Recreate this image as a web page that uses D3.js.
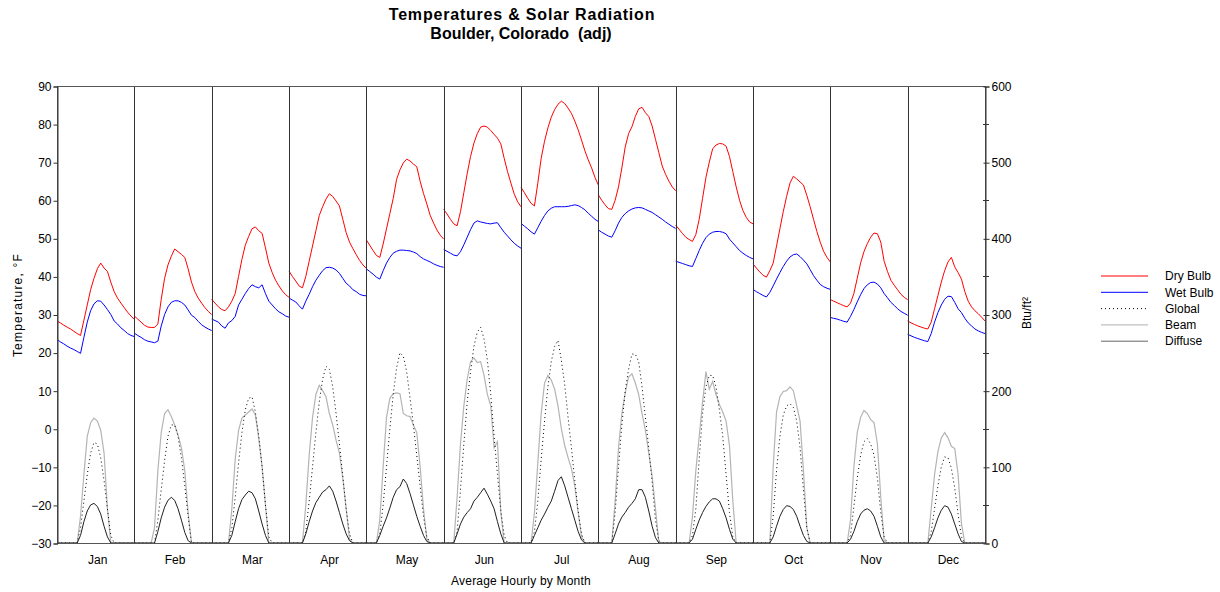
<!DOCTYPE html>
<html>
<head>
<meta charset="utf-8">
<script src="https://cdn.jsdelivr.net/npm/d3@7"></script>
<style>
  body { margin: 0; background: #fff; }
  text { font-family: "Liberation Sans", Arial, sans-serif; fill: #000; }
</style>
</head>
<body>
<div class="chart"></div>
<script>
const months = ["Jan", "Feb", "Mar", "Apr", "May", "Jun", "Jul", "Aug", "Sep", "Oct", "Nov", "Dec"];

// average hourly values, 24 per month (hour 1..24)
const dryBulb = [
  [28.3, 27.8, 27.2, 26.7, 26.2, 25.6, 25.0, 24.5, 28.5, 32.5, 36.5, 39.5, 42, 43.5, 42.2, 41.3, 38.5, 36, 34.3, 33, 31.8, 30.6, 29.6, 28.7],
  [29.6, 28.8, 28, 27.2, 26.7, 26.6, 26.6, 27.5, 34, 39.5, 43, 45.3, 47.2, 46.5, 45.8, 45, 42, 38.5, 36, 34.3, 33, 31.8, 30.8, 30],
  [34, 33, 32, 31.3, 31, 32, 33.5, 35.5, 40, 44.5, 48.2, 50.5, 52.5, 53, 52, 51.3, 47.5, 43.5, 41, 39, 37.5, 36.2, 35.2, 34.5],
  [41.4, 40, 38.8, 37.5, 37, 40, 44, 48, 52, 56, 58.3, 60.3, 61.7, 61, 59.8, 58.5, 55, 51.5, 49, 47.3, 45.7, 44.2, 43, 42.1],
  [49.6, 48.2, 46.8, 45.5, 45, 48.5, 52.5, 56.5, 60.5, 65.5, 68, 69.8, 70.8, 70.3, 69.5, 68.8, 65, 61.8, 59, 56, 54, 52.2, 50.8, 49.8],
  [57.6, 56.4, 55, 53.8, 53.3, 57, 62, 67, 71.5, 75, 77.5, 79.2, 79.5, 79.2, 78.3, 77.3, 76.3, 74.8, 71, 67.5, 64.5, 61.6, 59.6, 58.3],
  [63.4, 62, 60.5, 59.2, 58.5, 64.5, 71, 75.5, 79, 81.8, 83.8, 85.2, 86, 85.4, 84.2, 82.8, 80.8, 78.5, 75.8, 73, 70.6, 68.5, 66, 64],
  [61.4, 60, 58.8, 57.8, 57.6, 60, 63.5, 68.5, 74, 77.5, 79.3, 82, 84, 84.4, 83, 82, 79.5, 76, 72.5, 69, 66.8, 65, 63.5, 62.5],
  [53.5, 52.4, 51.3, 50.3, 49.7, 49.2, 51, 55, 60.5, 66, 70, 73.5, 74.5, 74.9, 74.8, 74.2, 71.5, 67.5, 63.5, 60, 57.3, 55.5, 54.3, 53.8],
  [43.3, 42.2, 41.2, 40.3, 39.8, 41.5, 43.5, 48, 52.5, 57, 61, 64.5, 66.3, 65.6, 64.8, 64, 61.3, 58.3, 55, 51.8, 49, 46.6, 45, 43.8],
  [33.9, 33.5, 33.1, 32.7, 32.3, 32, 33, 35.5, 39.5, 43.5, 46.5, 48.6, 50.3, 51.4, 51.2, 49, 44, 41.3, 39, 37.7, 36.5, 35.3, 34.5, 33.9],
  [28.3, 27.8, 27.4, 27, 26.7, 26.4, 26.2, 28, 31.5, 35, 38.5, 41.5, 43.8, 45, 42.5, 41, 39.3, 36, 33.5, 32, 31, 30.2, 29.3, 28.3]
];

const wetBulb = [
  [23.5, 22.8, 22.3, 21.7, 21.2, 20.8, 20.3, 19.8, 24, 28, 31, 32.8, 33.6, 33.5, 32.5, 31.3, 30, 28.3, 27.5, 26.5, 25.8, 25, 24.5, 24.2],
  [25.1, 24.5, 24, 23.4, 23, 22.8, 22.6, 23, 27, 30, 32, 33.2, 33.6, 33.6, 33.2, 32.5, 31.2, 29.8, 29.2, 28.2, 27.3, 26.7, 26.2, 25.8],
  [28.8, 28.4, 28, 27, 26.4, 27.8, 28.4, 29.5, 32.5, 34, 35.5, 36.8, 37.8, 37.3, 37, 37.8, 35.5, 33.5, 32.5, 31.5, 30.7, 30.2, 29.6, 29.3],
  [34.3, 33.8, 33.3, 32.3, 31.4, 33.5, 35.3, 37.3, 39, 40.3, 41.5, 42.3, 42.4, 42.2, 41.7, 40.8, 39.5, 38.2, 37.5, 36.5, 36, 35.3, 35, 34.9],
  [42, 41.3, 40.6, 39.8, 39.3, 41.5, 43.5, 45, 46.1, 46.6, 46.9, 46.9, 46.8, 46.7, 46.4, 46, 45.2, 44.6, 44.2, 43.8, 43.3, 42.9, 42.6, 42.4],
  [47.1, 46.6, 46.1, 45.6, 45.4, 46.5, 48.3, 50.3, 52.3, 54, 54.6, 54.3, 54.1, 53.9, 53.8, 54, 54.1, 52.8, 51.6, 50.6, 49.6, 48.7, 48, 47.4],
  [53.9, 53.2, 52.5, 51.7, 51.1, 52.8, 54.5, 56, 57.2, 57.9, 58.3, 58.3, 58.3, 58.3, 58.4, 58.6, 58.8, 58.6, 58.1, 57.5, 56.6, 55.8, 55, 54.4],
  [52.2, 51.6, 51.1, 50.6, 50.3, 52, 54, 55.5, 56.5, 57.2, 57.7, 58, 58.1, 58, 57.6, 57.2, 56.8, 56.2, 55.6, 55, 54.3, 53.7, 53.1, 52.6],
  [44, 43.7, 43.4, 43.1, 42.8, 42.6, 44.7, 46.8, 48.7, 50.2, 51.1, 51.6, 51.8, 51.8, 51.6, 51.2, 49.8, 48.8, 47.8, 46.8, 46.1, 45.5, 45, 44.6],
  [36.6, 36, 35.5, 35, 34.6, 35.8, 37.5, 39.3, 41, 42.6, 44, 45.1, 45.7, 45.9, 45.2, 44.3, 43.3, 41.8, 40.2, 39, 37.9, 37.3, 36.9, 36.6],
  [29.2, 29, 28.8, 28.5, 28.2, 28, 29.5, 31.3, 33.3, 35.2, 36.8, 37.8, 38.4, 38.5, 38, 37, 35.5, 34.4, 33.2, 32.4, 31.5, 30.8, 30.3, 29.8],
  [24.8, 24.4, 24, 23.7, 23.4, 23.1, 22.9, 25, 28, 30.5, 32.5, 34, 34.8, 34.7, 33.2, 31.5, 30.5, 29, 27.8, 27, 26.2, 25.7, 25.3, 25]
];

const globalRad = [
  [0, 0, 0, 0, 0, 0, 0, 20, 55, 90, 118, 132, 130, 112, 82, 45, 10, 0, 0, 0, 0, 0, 0, 0],
  [0, 0, 0, 0, 0, 0, 0, 30, 70, 108, 140, 155, 155, 140, 112, 75, 35, 0, 0, 0, 0, 0, 0, 0],
  [0, 0, 0, 0, 0, 0, 20, 60, 105, 145, 175, 190, 192, 172, 140, 100, 50, 8, 0, 0, 0, 0, 0, 0],
  [0, 0, 0, 0, 0, 15, 55, 100, 145, 185, 215, 232, 228, 205, 170, 130, 88, 45, 12, 0, 0, 0, 0, 0],
  [0, 0, 0, 0, 12, 50, 100, 150, 195, 230, 250, 245, 225, 190, 155, 115, 75, 35, 8, 0, 0, 0, 0, 0],
  [0, 0, 0, 0, 15, 70, 130, 185, 225, 258, 277, 283, 268, 240, 195, 140, 90, 42, 10, 0, 0, 0, 0, 0],
  [0, 0, 0, 0, 15, 55, 110, 160, 205, 238, 258, 266, 240, 208, 165, 125, 82, 42, 12, 0, 0, 0, 0, 0],
  [0, 0, 0, 0, 0, 40, 100, 155, 200, 228, 248, 248, 238, 205, 165, 125, 80, 30, 3, 0, 0, 0, 0, 0],
  [0, 0, 0, 0, 0, 10, 45, 110, 170, 205, 220, 220, 205, 175, 140, 90, 40, 8, 0, 0, 0, 0, 0, 0],
  [0, 0, 0, 0, 0, 0, 35, 95, 140, 168, 180, 183, 178, 160, 125, 70, 20, 0, 0, 0, 0, 0, 0, 0],
  [0, 0, 0, 0, 0, 0, 10, 48, 85, 115, 133, 137, 130, 115, 85, 40, 8, 0, 0, 0, 0, 0, 0, 0],
  [0, 0, 0, 0, 0, 0, 0, 15, 45, 75, 100, 113, 112, 98, 72, 38, 8, 0, 0, 0, 0, 0, 0, 0]
];

const beamRad = [
  [0, 0, 0, 0, 0, 0, 0, 35, 90, 140, 158, 164, 160, 148, 118, 45, 0, 0, 0, 0, 0, 0, 0, 0],
  [0, 0, 0, 0, 0, 0, 20, 95, 145, 170, 175, 166, 155, 142, 125, 95, 40, 0, 0, 0, 0, 0, 0, 0],
  [0, 0, 0, 0, 0, 0, 45, 110, 148, 164, 168, 172, 176, 168, 138, 100, 50, 0, 0, 0, 0, 0, 0, 0],
  [0, 0, 0, 0, 0, 50, 115, 165, 195, 207, 200, 192, 170, 155, 135, 118, 85, 45, 5, 0, 0, 0, 0, 0],
  [0, 0, 0, 0, 30, 100, 165, 190, 196, 197, 196, 170, 167, 166, 155, 145, 100, 45, 5, 0, 0, 0, 0, 0],
  [0, 0, 0, 0, 60, 130, 180, 215, 238, 243, 237, 238, 220, 195, 180, 125, 133, 40, 0, 0, 0, 0, 0, 0],
  [0, 0, 0, 0, 40, 105, 170, 210, 220, 214, 202, 180, 150, 128, 112, 98, 75, 40, 8, 0, 0, 0, 0, 0],
  [0, 0, 0, 0, 0, 55, 125, 170, 197, 218, 222, 210, 195, 170, 148, 118, 88, 45, 0, 0, 0, 0, 0, 0],
  [0, 0, 0, 0, 0, 35, 95, 140, 185, 225, 202, 212, 195, 182, 172, 160, 128, 55, 0, 0, 0, 0, 0, 0],
  [0, 0, 0, 0, 0, 0, 100, 172, 192, 199, 200, 205, 200, 180, 160, 95, 20, 0, 0, 0, 0, 0, 0, 0],
  [0, 0, 0, 0, 0, 0, 30, 100, 145, 165, 174, 170, 162, 158, 130, 60, 3, 0, 0, 0, 0, 0, 0, 0],
  [0, 0, 0, 0, 0, 0, 0, 45, 90, 120, 138, 145, 138, 127, 124, 90, 25, 0, 0, 0, 0, 0, 0, 0]
];

const diffuseRad = [
  [0, 0, 0, 0, 0, 0, 0, 10, 28, 42, 50, 52, 48, 38, 22, 8, 0, 0, 0, 0, 0, 0, 0, 0],
  [0, 0, 0, 0, 0, 0, 0, 15, 33, 47, 56, 60, 56, 45, 30, 14, 3, 0, 0, 0, 0, 0, 0, 0],
  [0, 0, 0, 0, 0, 0, 10, 28, 45, 57, 63, 68, 66, 58, 42, 25, 10, 0, 0, 0, 0, 0, 0, 0],
  [0, 0, 0, 0, 0, 12, 28, 42, 53, 60, 67, 70, 75, 68, 55, 40, 25, 12, 3, 0, 0, 0, 0, 0],
  [0, 0, 0, 0, 10, 22, 33, 46, 60, 70, 74, 84, 78, 65, 50, 35, 22, 10, 2, 0, 0, 0, 0, 0],
  [0, 0, 0, 0, 12, 25, 34, 40, 45, 55, 60, 66, 72, 64, 55, 45, 28, 12, 0, 0, 0, 0, 0, 0],
  [0, 0, 0, 0, 10, 20, 30, 38, 47, 55, 68, 82, 87, 75, 60, 45, 30, 15, 4, 0, 0, 0, 0, 0],
  [0, 0, 0, 0, 0, 12, 25, 34, 40, 47, 52, 58, 70, 70, 60, 42, 22, 7, 0, 0, 0, 0, 0, 0],
  [0, 0, 0, 0, 0, 5, 18, 30, 40, 48, 54, 58, 58, 55, 45, 33, 18, 5, 0, 0, 0, 0, 0, 0],
  [0, 0, 0, 0, 0, 0, 8, 22, 35, 44, 49, 48, 44, 35, 22, 10, 2, 0, 0, 0, 0, 0, 0, 0],
  [0, 0, 0, 0, 0, 0, 5, 15, 28, 38, 43, 45, 42, 35, 22, 8, 0, 0, 0, 0, 0, 0, 0, 0],
  [0, 0, 0, 0, 0, 0, 0, 8, 20, 33, 43, 49, 47, 38, 25, 12, 2, 0, 0, 0, 0, 0, 0, 0]
];

const tempTicks = d3.range(-30, 91, 10);
const radTicks = d3.range(0, 601, 100);
const radMinorTicks = d3.range(50, 600, 100);

const width = 1220, height = 592;
const plot = { left: 57, right: 985, top: 86, bottom: 543 };

const svg = d3.select(".chart")
              .append("svg")
                  .attr("width", width)
                  .attr("height", height);

svg.append("rect").attr("width", width).attr("height", height).attr("fill", "#fff");

const x = d3.scaleLinear().domain([0, 12]).range([plot.left, plot.right]);
const yT = d3.scaleLinear().domain([-30, 90]).range([plot.bottom, plot.top]);
const yR = d3.scaleLinear().domain([0, 600]).range([plot.bottom, plot.top]);
const hourX = (m, h) => x(m + h / 23);

/* Title */
svg.append("text")
   .attr("x", 522).attr("y", 20)
   .attr("text-anchor", "middle")
   .attr("font-size", "16px").attr("font-weight", "bold")
   .attr("letter-spacing", "0.8px")
   .text("Temperatures & Solar Radiation");
svg.append("text")
   .attr("x", 521).attr("y", 39)
   .attr("text-anchor", "middle")
   .attr("font-size", "16px").attr("font-weight", "bold")
   .style("white-space", "pre")
   .text("Boulder, Colorado  (adj)");

/* Series, drawn back to front */
const series = [
  { name: "Beam",     data: beamRad,    y: yR, color: "#b4b4b4", dash: null,  width: 1.2 },
  { name: "Global",   data: globalRad,  y: yR, color: "#000",    dash: "1,3", width: 1 },
  { name: "Diffuse",  data: diffuseRad, y: yR, color: "#202020", dash: null,  width: 1 },
  { name: "Wet Bulb", data: wetBulb,    y: yT, color: "#0000ff", dash: null,  width: 1 },
  { name: "Dry Bulb", data: dryBulb,    y: yT, color: "#ff0000", dash: null,  width: 1 }
];

svg.append("clipPath").attr("id", "clip")
   .append("rect")
   .attr("x", plot.left).attr("y", plot.top)
   .attr("width", plot.right - plot.left).attr("height", plot.bottom - plot.top);

const lines = svg.append("g").attr("clip-path", "url(#clip)");

series.forEach(s => {
    s.data.forEach((vals, m) => {
        const line = d3.line()
                       .x((d, i) => hourX(m, i))
                       .y(d => s.y(d));
        lines.append("path")
             .attr("d", line(vals))
             .attr("fill", "none")
             .attr("stroke", s.color)
             .attr("stroke-width", s.width)
             .attr("stroke-dasharray", s.dash);
    });
});

/* Month dividers and frame */
svg.append("g")
   .selectAll("line")
   .data(d3.range(1, 12))
   .enter()
   .append("line")
       .attr("x1", d => Math.round(x(d)) + 0.5)
       .attr("x2", d => Math.round(x(d)) + 0.5)
       .attr("y1", plot.top)
       .attr("y2", plot.bottom)
       .attr("stroke", "#333");

svg.append("rect")
   .attr("x", plot.left + 0.5).attr("y", plot.top + 0.5)
   .attr("width", plot.right - plot.left).attr("height", plot.bottom - plot.top)
   .attr("fill", "none").attr("stroke", "#555");

/* Left axis */
const leftAxis = svg.append("g")
   .attr("transform", "translate(" + (plot.left + 0.5) + ",0.5)")
   .call(d3.axisLeft(yT).tickValues(tempTicks).tickSize(4).tickPadding(2));
leftAxis.select(".domain").attr("stroke", "#333");
leftAxis.selectAll("line").attr("stroke", "#333");
leftAxis.selectAll("text").attr("font-size", "12px").attr("font-family", null);

/* Right axis */
const rightAxis = svg.append("g")
   .attr("transform", "translate(" + (plot.right + 0.5) + ",0.5)")
   .call(d3.axisRight(yR).tickValues(radTicks).tickSize(4).tickPadding(2));
rightAxis.select(".domain").attr("stroke", "#333");
rightAxis.selectAll("line").attr("stroke", "#333").attr("x1", -2);
rightAxis.selectAll("text").attr("font-size", "12px").attr("font-family", null);

svg.append("g")
   .selectAll("line")
   .data(radMinorTicks)
   .enter()
   .append("line")
       .attr("x1", plot.right - 2).attr("x2", plot.right + 4)
       .attr("y1", d => Math.round(yR(d)) + 0.5)
       .attr("y2", d => Math.round(yR(d)) + 0.5)
       .attr("stroke", "#333");

/* Month labels */
svg.append("g")
   .selectAll("text")
   .data(months)
   .enter()
   .append("text")
       .attr("x", (d, i) => x(i + 0.5) + 2)
       .attr("y", 564)
       .attr("text-anchor", "middle")
       .attr("font-size", "12px")
       .text(d => d);

svg.append("text")
   .attr("x", 521).attr("y", 585)
   .attr("text-anchor", "middle")
   .attr("font-size", "12px")
   .attr("letter-spacing", "0.2px")
   .text("Average Hourly by Month");

svg.append("text")
   .attr("transform", "translate(22, 305) rotate(-90)")
   .attr("text-anchor", "middle")
   .attr("font-size", "12px")
   .attr("letter-spacing", "1.2px")
   .text("Temperature, °F");

svg.append("text")
   .attr("transform", "translate(1031, 313) rotate(-90)")
   .attr("text-anchor", "middle")
   .attr("font-size", "12px")
   .text("Btu/ft²");

/* Legend */
const legendOrder = ["Dry Bulb", "Wet Bulb", "Global", "Beam", "Diffuse"];
const legend = svg.append("g")
   .selectAll("g")
   .data(legendOrder.map(n => series.find(s => s.name === n)))
   .enter()
   .append("g")
       .attr("transform", (d, i) => "translate(1101," + (276 + i * 16.3) + ")");

legend.append("line")
      .attr("x1", 0).attr("x2", 47)
      .attr("stroke", d => d.name === "Diffuse" ? "#666" : (d.name === "Beam" ? "#c0c0c0" : d.color))
      .attr("stroke-width", d => d.width)
      .attr("stroke-dasharray", d => d.dash);

legend.append("text")
      .attr("x", 64).attr("dy", "0.35em")
      .attr("font-size", "12px")
      .text(d => d.name);
</script>
</body>
</html>
